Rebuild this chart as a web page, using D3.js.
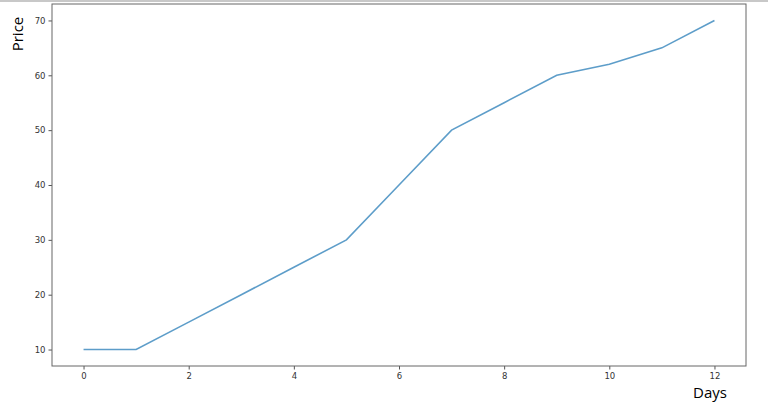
<!DOCTYPE html>
<html>
<head>
<meta charset="utf-8">
<script src="https://cdn.jsdelivr.net/npm/d3@7"></script>
<style>
  body { margin: 0; background: #fff; }
  svg { display: block; }
</style>
</head>
<body>
<div class="card"></div>
<script>
/* global d3*/

var days = [0, 1, 2, 3, 4, 5, 6, 7, 8, 9, 10, 11, 12];
var prices = [10, 10, 15, 20, 25, 30, 40, 50, 55, 60, 62, 65, 70];
var xTicks = [0, 2, 4, 6, 8, 10, 12];
var yTicks = [10, 20, 30, 40, 50, 60, 70];

var width = 768,
    height = 408,
    plotLeft = 52, plotRight = 746, plotTop = 4, plotBottom = 366;

var svg = d3.select(".card").append("svg")
    .attr("width", width)
    .attr("height", height);

// thin grey strip along the top of the screenshot
svg.append("rect")
    .attr("x", 0).attr("y", 0)
    .attr("width", width).attr("height", 2)
    .attr("fill", "#c8c8c8");

var x = d3.scaleLinear().domain([-0.6, 12.6]).range([plotLeft, plotRight]);
var y = d3.scaleLinear().domain([7, 73]).range([plotBottom, plotTop]);

var xAxis = svg.append("g")
    .attr("transform", "translate(0," + plotBottom + ")")
    .call(d3.axisBottom(x).tickValues(xTicks).tickSize(3.5).tickPadding(3));

var yAxis = svg.append("g")
    .attr("transform", "translate(" + plotLeft + ",0)")
    .call(d3.axisLeft(y).tickValues(yTicks).tickSize(3.5).tickPadding(3));

[xAxis, yAxis].forEach(function(g) {
    g.select(".domain").remove();
    g.selectAll("line").attr("stroke", "#555");
    g.selectAll("text")
        .attr("fill", "#333")
        .style("font-family", "DejaVu Sans, sans-serif")
        .style("font-size", "8.5px");
});

svg.append("rect")
    .attr("x", plotLeft).attr("y", plotTop)
    .attr("width", plotRight - plotLeft).attr("height", plotBottom - plotTop)
    .attr("fill", "none")
    .attr("stroke", "#666")
    .attr("stroke-width", 1);

var line = d3.line()
    .x(function(d, i) { return x(days[i]); })
    .y(function(d) { return y(d); });

svg.append("path")
    .datum(prices)
    .attr("d", line)
    .attr("fill", "none")
    .attr("stroke", "#1f77b4")
    .attr("stroke-opacity", 0.72)
    .attr("stroke-width", 1.6);

svg.append("text")
    .attr("transform", "translate(23,34) rotate(-90)")
    .attr("text-anchor", "middle")
    .style("font-family", "Open Sans, sans-serif")
    .style("font-size", "15px")
    .attr("fill", "#000")
    .text("Price");

svg.append("text")
    .attr("x", 710).attr("y", 398)
    .attr("text-anchor", "middle")
    .style("font-family", "Open Sans, sans-serif")
    .style("font-size", "15px")
    .attr("fill", "#000")
    .text("Days");
</script>
</body>
</html>
